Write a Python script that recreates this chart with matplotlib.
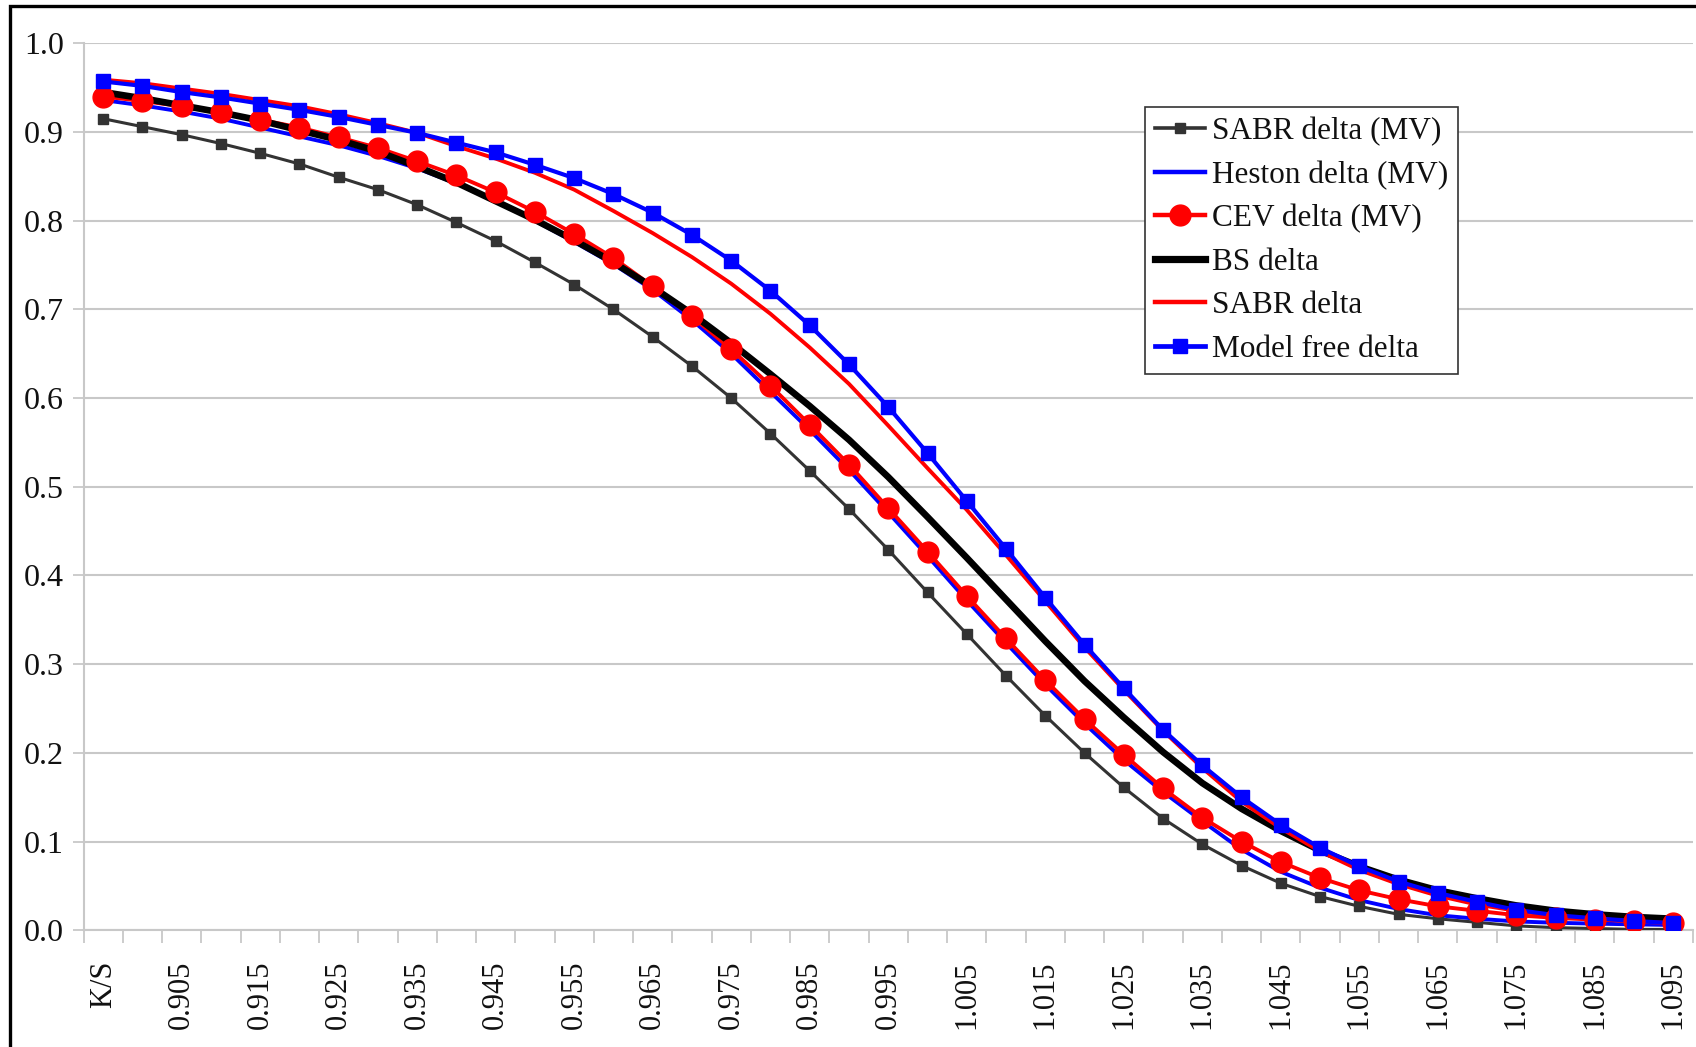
import matplotlib
matplotlib.use("Agg")
import matplotlib.pyplot as plt
from matplotlib.patches import Rectangle

plt.rcParams['font.family'] = ['Liberation Serif', 'DejaVu Serif']

# Category labels (K/S); first category is labelled "K/S"
categories = ["K/S"] + [f"{0.900 + 0.005 * k:.3f}" for k in range(40)]

sabr_mv = [0.915, 0.906, 0.897, 0.887, 0.876, 0.864, 0.849, 0.835, 0.818, 0.798,
           0.777, 0.753, 0.728, 0.700, 0.669, 0.636, 0.600, 0.560, 0.518, 0.475,
           0.429, 0.381, 0.334, 0.287, 0.242, 0.200, 0.161, 0.126, 0.097, 0.073,
           0.053, 0.038, 0.027, 0.018, 0.013, 0.009, 0.005, 0.003, 0.002, 0.001, 0.001]

heston_mv = [0.936, 0.930, 0.923, 0.915, 0.905, 0.895, 0.885, 0.873, 0.859, 0.842,
             0.822, 0.800, 0.776, 0.751, 0.722, 0.688, 0.650, 0.607, 0.564, 0.519,
             0.471, 0.422, 0.372, 0.324, 0.277, 0.233, 0.192, 0.156, 0.123, 0.091,
             0.066, 0.048, 0.034, 0.024, 0.017, 0.013, 0.010, 0.0085, 0.0075, 0.0067, 0.006]

cev_mv = [0.940, 0.935, 0.929, 0.922, 0.914, 0.905, 0.894, 0.882, 0.867, 0.851,
          0.832, 0.810, 0.785, 0.758, 0.726, 0.692, 0.655, 0.614, 0.570, 0.525,
          0.476, 0.427, 0.377, 0.329, 0.282, 0.238, 0.198, 0.160, 0.127, 0.100,
          0.077, 0.059, 0.045, 0.035, 0.027, 0.022, 0.017, 0.014, 0.012, 0.0105, 0.0086]

bs_delta = [0.945, 0.938, 0.930, 0.922, 0.913, 0.902, 0.891, 0.878, 0.861, 0.843,
            0.822, 0.801, 0.778, 0.753, 0.725, 0.695, 0.662, 0.627, 0.591, 0.553,
            0.511, 0.466, 0.420, 0.373, 0.326, 0.281, 0.240, 0.201, 0.166, 0.137,
            0.112, 0.090, 0.072, 0.057, 0.045, 0.036, 0.028, 0.022, 0.018, 0.015, 0.013]

sabr_delta = [0.959, 0.955, 0.949, 0.943, 0.936, 0.929, 0.920, 0.910, 0.899, 0.884,
              0.870, 0.854, 0.835, 0.811, 0.786, 0.759, 0.729, 0.695, 0.657, 0.616,
              0.569, 0.521, 0.474, 0.423, 0.371, 0.319, 0.271, 0.225, 0.183, 0.145,
              0.115, 0.089, 0.068, 0.052, 0.039, 0.029, 0.022, 0.016, 0.013, 0.010, 0.008]

model_free = [0.957, 0.952, 0.945, 0.939, 0.932, 0.925, 0.917, 0.908, 0.899, 0.888,
              0.877, 0.863, 0.848, 0.830, 0.809, 0.784, 0.755, 0.721, 0.682, 0.638,
              0.590, 0.538, 0.484, 0.430, 0.375, 0.322, 0.273, 0.226, 0.186, 0.150,
              0.119, 0.093, 0.072, 0.055, 0.042, 0.032, 0.023, 0.017, 0.0135, 0.0105, 0.008]

series_names = ["SABR delta (MV)", "Heston delta (MV)", "CEV delta (MV)",
                "BS delta", "SABR delta", "Model free delta"]
y_ticks = [0.0, 0.1, 0.2, 0.3, 0.4, 0.5, 0.6, 0.7, 0.8, 0.9, 1.0]

W, H = 1696, 1047
fig = plt.figure(figsize=(W / 100, H / 100), dpi=100)
fig.patch.set_facecolor('white')
ax = fig.add_axes([83.5 / W, 1 - 930.3 / H, (1693 - 83.5) / W, (930.3 - 43.3) / H])

x = list(range(len(categories)))
grid_c = '#c8c8c8'

styles = [
    dict(data=sabr_mv, color='#333333', lw=2.2, marker='s', ms=7),
    dict(data=heston_mv, color='#0000ff', lw=2.8, marker=None, ms=0),
    dict(data=cev_mv, color='#ff0000', lw=2.8, marker='o', ms=15),
    dict(data=bs_delta, color='#000000', lw=4.8, marker=None, ms=0),
    dict(data=sabr_delta, color='#ff0000', lw=2.8, marker=None, ms=0),
    dict(data=model_free, color='#0000ff', lw=3.0, marker='s', ms=10.5),
]

handles = []
for k, (name, st) in enumerate(zip(series_names, styles)):
    ax.plot(x, st['data'], color=st['color'], lw=st['lw'], zorder=3 + k * 0.1,
            solid_capstyle='round', solid_joinstyle='round')
    if st['marker']:
        ax.plot(x, st['data'], linestyle='none', marker=st['marker'], ms=st['ms'],
                color=st['color'], mec=st['color'], zorder=5 + k * 0.1)
    h, = ax.plot([], [], color=st['color'], lw=st['lw'] + 0.4,
                 marker=st['marker'] if st['marker'] else None,
                 ms=(st['ms'] if st['marker'] else 0), mec=st['color'])
    handles.append(h)

ax.set_xlim(-0.5, len(categories) - 0.5)
ax.set_ylim(0, 1.0)

# y axis
ax.set_yticks(y_ticks)
ax.set_yticklabels([f"{v:.1f}" for v in y_ticks])
ax.yaxis.grid(True, color=grid_c, lw=1.5)
ax.set_axisbelow(True)
ax.tick_params(axis='y', direction='out', length=8, width=1.3, color=grid_c,
               labelsize=23, pad=6, labelcolor='#111111')

# x axis: tick marks between categories, labels on every other category
ax.set_xticks([i - 0.5 for i in range(len(categories) + 1)])
ax.set_xticklabels([])
ax.set_xticks(x[::2], minor=True)
ax.set_xticklabels(categories[::2], minor=True, rotation=90)
ax.tick_params(axis='x', which='major', direction='out', length=9, width=1.3, color=grid_c)
ax.tick_params(axis='x', which='minor', length=0, labelsize=22, pad=22, labelcolor='#111111')

for side in ['top', 'right']:
    ax.spines[side].set_visible(False)
for side in ['left', 'bottom']:
    ax.spines[side].set_color(grid_c)
    ax.spines[side].set_linewidth(1.5)

leg = fig.legend(handles, series_names, loc='upper left',
                 bbox_to_anchor=(1145 / W, 1 - 106.5 / H), bbox_transform=fig.transFigure,
                 fontsize=22.5, frameon=True, fancybox=False, framealpha=1,
                 edgecolor='#333333', handlelength=1.6, handletextpad=0.2,
                 labelspacing=0.46, borderpad=0.33, borderaxespad=0)
leg.get_frame().set_linewidth(1.2)
for t in leg.get_texts():
    t.set_color('#111111')

# chart-area border (cropped on right and bottom in the reference)
fig.add_artist(Rectangle((9.5 / W, -0.5), 2.0, 1 - 5.5 / H + 0.5, transform=fig.transFigure,
                         fill=False, ec='black', lw=2.4, zorder=10))

fig.savefig('out.png', dpi=100, facecolor='white')
